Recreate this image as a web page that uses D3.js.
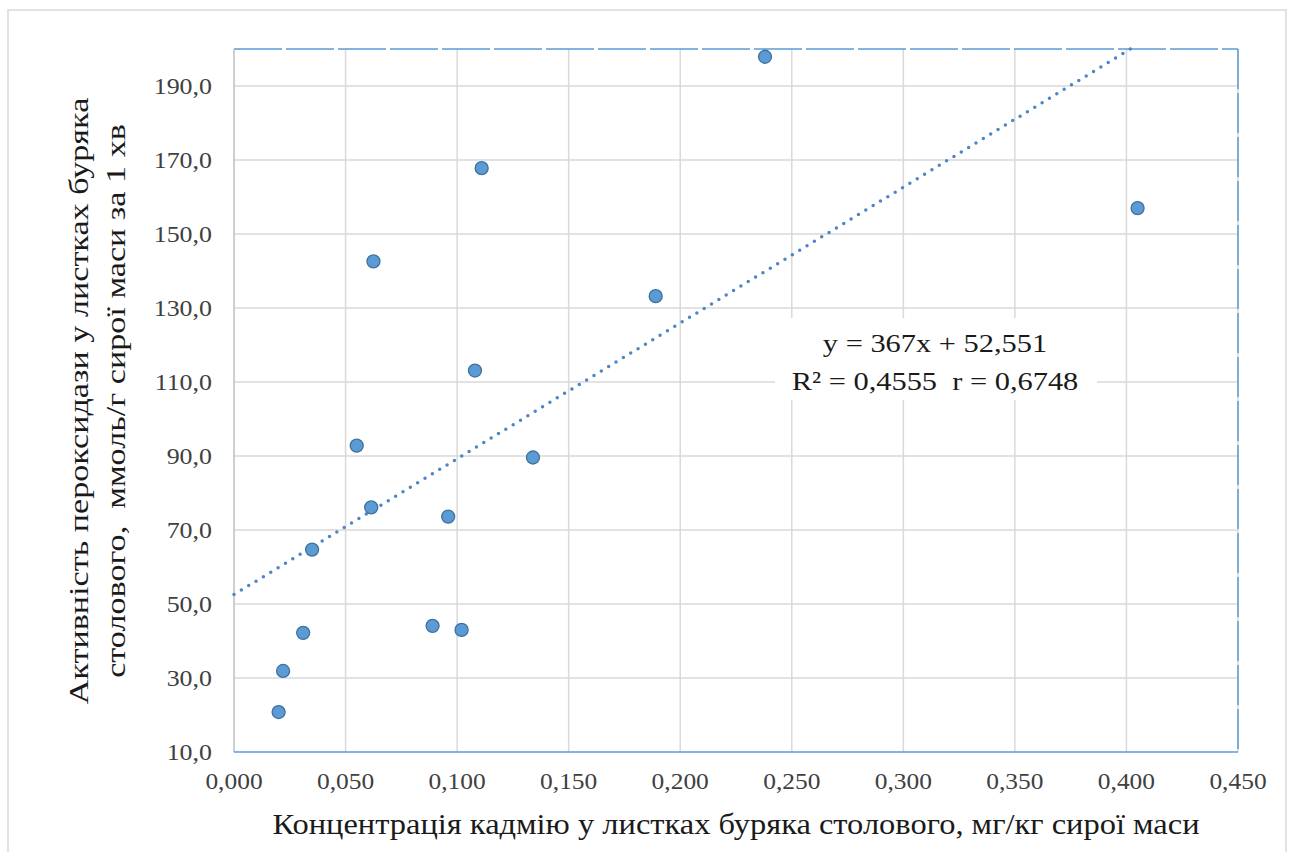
<!DOCTYPE html>
<html>
<head>
<meta charset="utf-8">
<script src="https://cdn.jsdelivr.net/npm/d3@7"></script>
<style>
  body { margin: 0; background: #fff; }
  text { font-family: "Liberation Serif", "Times New Roman", serif; white-space: pre; }
</style>
</head>
<body>
<div class="viz"></div>
<script>
const SVGwd = 1289, SVGht = 852;

// cadmium concentration, mg/kg fresh mass
const cadmium = [0.020, 0.022, 0.031, 0.035, 0.055, 0.0615, 0.0625, 0.089, 0.096,
                 0.102, 0.108, 0.111, 0.134, 0.189, 0.238, 0.405];
// peroxidase activity
const peroxidase = [20.8, 31.9, 42.2, 64.7, 92.8, 76.1, 142.6, 44.1, 73.6,
                    43.0, 113.1, 167.8, 89.6, 133.2, 197.9, 157.0];

const xTicks = [0, 0.05, 0.10, 0.15, 0.20, 0.25, 0.30, 0.35, 0.40, 0.45];
const yTicks = [10, 30, 50, 70, 90, 110, 130, 150, 170, 190];

const trendSlope = 367, trendIntercept = 52.551;
const eqLines = ["y = 367x + 52,551", "R\u00B2 = 0,4555  r = 0,6748"];
const xTitle = "Концентрація кадмію у листках буряка столового, мг/кг сирої маси";
const yTitle = ["Активність пероксидази у листках буряка", "столового,  ммоль/г сирої маси за 1 хв"];

const plot = { left: 234, right: 1238, top: 49, bottom: 752 };

var canvas = d3.select(".viz")
    .append("svg")
    .attr("width", SVGwd)
    .attr("height", SVGht);

// outer chart frame
canvas.append("rect")
    .attr("x", 8).attr("y", 10)
    .attr("width", 1278).attr("height", 860)
    .attr("fill", "#fff")
    .attr("stroke", "#d9d9d9")
    .attr("stroke-width", 1.5);

var x = d3.scaleLinear().domain([0, 0.45]).range([plot.left, plot.right]);
var y = d3.scaleLinear().domain([10, 200]).range([plot.bottom, plot.top]);

const fmt = (d, n) => d.toFixed(n).replace(".", ",");

// gridlines
canvas.append("g")
    .selectAll("line")
    .data(xTicks.slice(1))
    .join("line")
    .attr("x1", d => x(d)).attr("x2", d => x(d))
    .attr("y1", plot.top).attr("y2", plot.bottom)
    .attr("stroke", "#d9d9d9")
    .attr("stroke-width", 1.5);

canvas.append("g")
    .selectAll("line")
    .data(yTicks.slice(1))
    .join("line")
    .attr("x1", plot.left).attr("x2", plot.right)
    .attr("y1", d => y(d)).attr("y2", d => y(d))
    .attr("stroke", "#d9d9d9")
    .attr("stroke-width", 1.5);

// plot border: dashed blue top & right
canvas.append("line")
    .attr("x1", plot.left).attr("x2", plot.right)
    .attr("y1", plot.top).attr("y2", plot.top)
    .attr("stroke", "#5b9bd5").attr("stroke-width", 1.5)
    .attr("stroke-dasharray", "48 4");
canvas.append("line")
    .attr("x1", plot.right).attr("x2", plot.right)
    .attr("y1", plot.top).attr("y2", plot.bottom)
    .attr("stroke", "#5b9bd5").attr("stroke-width", 1.5)
    .attr("stroke-dasharray", "40 4");

// axes lines
canvas.append("line")
    .attr("x1", plot.left).attr("x2", plot.left)
    .attr("y1", plot.top).attr("y2", plot.bottom)
    .attr("stroke", "#bfbfbf").attr("stroke-width", 1.5);
canvas.append("line")
    .attr("x1", plot.left).attr("x2", plot.right)
    .attr("y1", plot.bottom).attr("y2", plot.bottom)
    .attr("stroke", "#5b9bd5").attr("stroke-width", 1.5);

// tick labels (the source is a little wider than Times, so stretch)
canvas.append("g")
    .selectAll("text")
    .data(xTicks)
    .join("text")
    .attr("transform", d => `translate(${x(d)}, 789) scale(1.06, 1)`)
    .attr("text-anchor", "middle")
    .style("font-size", "24px")
    .attr("fill", "#404040")
    .text(d => fmt(d, 3));

canvas.append("g")
    .selectAll("text")
    .data(yTicks)
    .join("text")
    .attr("transform", d => `translate(212, ${y(d) + 8}) scale(1.08, 1)`)
    .attr("text-anchor", "end")
    .style("font-size", "24px")
    .attr("fill", "#404040")
    .text(d => fmt(d, 1));

// trend line
let xEnd = Math.min(0.45, (200 - trendIntercept) / trendSlope);
canvas.append("path")
    .datum([0, xEnd])
    .attr("fill", "none")
    .attr("stroke", "#4a86c8")
    .attr("stroke-width", 3.5)
    .attr("stroke-linecap", "round")
    .attr("stroke-dasharray", "0 8.6")
    .attr("d", d3.line()
        .x(d => x(d))
        .y(d => y(trendSlope * d + trendIntercept)));

// points
canvas.append("g")
    .selectAll("circle")
    .data(cadmium)
    .join("circle")
    .attr("cx", d => x(d))
    .attr("cy", (d, i) => y(peroxidase[i]))
    .attr("r", 6.5)
    .attr("fill", "#5b9bd5")
    .attr("stroke", "#41719c")
    .attr("stroke-width", 1.3);

// equation label
var eq = canvas.append("g");
eq.append("rect")
    .attr("x", 775).attr("y", 318)
    .attr("width", 322).attr("height", 82)
    .attr("fill", "#fff");
eq.selectAll("text")
    .data(eqLines)
    .join("text")
    .attr("transform", (d, i) => `translate(935, ${352 + i * 38}) scale(1.17, 1)`)
    .attr("text-anchor", "middle")
    .style("font-size", "26px")
    .attr("fill", "#1a1a1a")
    .text(d => d);

// axis titles
canvas.append("text")
    .attr("transform", "translate(736, 834) scale(1.12, 1)")
    .attr("text-anchor", "middle")
    .style("font-size", "29px")
    .attr("fill", "#1a1a1a")
    .text(xTitle);

canvas.append("g")
    .selectAll("text")
    .data(yTitle)
    .join("text")
    .attr("transform", (d, i) => `translate(${88 + i * 37}, 401) rotate(-90) scale(1.22, 1)`)
    .attr("text-anchor", "middle")
    .style("font-size", "28px")
    .attr("fill", "#1a1a1a")
    .text(d => d);
</script>
</body>
</html>
